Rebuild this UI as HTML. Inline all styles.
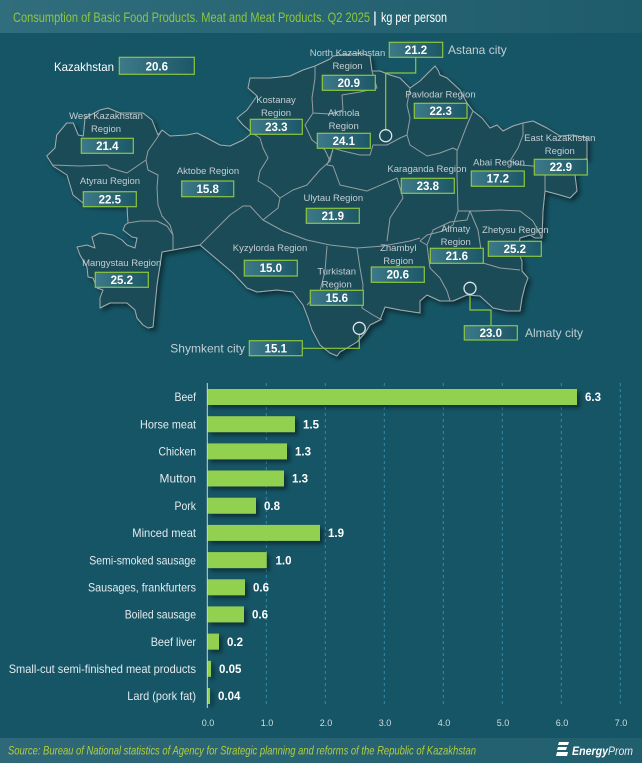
<!DOCTYPE html>
<html><head><meta charset="utf-8"><style>
html,body{margin:0;padding:0;background:#165565;}
svg{display:block;font-family:"Liberation Sans",sans-serif;}
</style></head><body>
<svg width="642" height="763" viewBox="0 0 642 763" xmlns="http://www.w3.org/2000/svg">
<defs>
<linearGradient id="hdr" x1="0" x2="1" y1="0" y2="0"><stop offset="0" stop-color="#306d7d"/><stop offset="1" stop-color="#1e5b6b"/></linearGradient>
<linearGradient id="ftr" x1="0" x2="1" y1="0" y2="0"><stop offset="0" stop-color="#2f6878"/><stop offset="1" stop-color="#215f6e"/></linearGradient>
<linearGradient id="box" x1="0" x2="1" y1="0" y2="0"><stop offset="0" stop-color="#3d7a89"/><stop offset="1" stop-color="#1c5767"/></linearGradient>
<filter id="sh" x="-10%" y="-10%" width="130%" height="130%"><feDropShadow dx="3" dy="3" stdDeviation="2.5" flood-color="#000" flood-opacity="0.45"/></filter>
<filter id="bsh" x="-5%" y="-20%" width="120%" height="170%"><feDropShadow dx="3" dy="3" stdDeviation="2" flood-color="#000" flood-opacity="0.45"/></filter>
</defs>
<rect width="642" height="763" fill="#165565"/>
<rect width="642" height="33" fill="url(#hdr)"/>
<text x="13" y="22" font-size="14" fill="#8dc63f" textLength="357" lengthAdjust="spacingAndGlyphs">Consumption of Basic Food Products. Meat and Meat Products. Q2 2025</text>
<text x="373" y="22.5" font-size="15" fill="#ffffff">|</text>
<text x="381" y="22" font-size="14" fill="#ffffff" textLength="66" lengthAdjust="spacingAndGlyphs">kg per person</text>

<!-- MAP -->
<path filter="url(#sh)" fill="#1e4c59" stroke="#a3adb0" stroke-width="1" stroke-linejoin="round" d="M46.7,156 L55,148 L56.7,135 L66.7,123 L73.3,123 L78.3,135 L83.3,136 L85,118 L100,110 L108,108 L120,113 L143,113 L152,120 L158,135 L162,130 L170,136 L187,135 L197,133 L207,138 L220,145 L230,146 L243,140 L252,133 L243,125 L237,118 L247,110 L257,96 L248,88 L250,78 L270,78 L290,76 L303,70 L315,66 L330,59 L333,56 L360,53 L370,56 L372,71 L380,71 L390,75 L400,78 L410,88 L420,81 L430,71 L435,66 L438,70 L440,75 L447,78 L460,90 L467,103 L473,111 L482,118 L490,128 L497,125 L503,131 L513,126 L523,123 L533,121 L547,128 L560,136 L573,135 L587,138 L587,158 L582,161 L575,175 L577,191 L570,198 L560,195 L545,191 L543,211 L542,238 L535,238 L530,235 L520,238 L518,251 L522,261 L522,271 L528,278 L525,286 L522,298 L520,311 L507,311 L493,308 L480,296 L467,295 L453,301 L440,301 L427,295 L420,301 L420,313 L400,310 L385,307 L380,320 L370,325 L365,333 L357,342 L347,348 L340,352 L337,356 L330,353 L320,345 L312,330 L308,318 L303,305 L293,292 L277,290 L257,292 L247,288 L233,273 L220,262 L200,245 L173,250 L162,252 L157,285 L153,327 L148,328 L143,325 L137,318 L135,310 L127,303 L110,303 L100,308 L100,298 L103,290 L97,288 L93,278 L88,277 L87,267 L80,255 L77,247 L87,245 L95,248 L92,237 L100,233 L113,235 L122,240 L127,245 L135,248 L137,238 L132,237 L123,230 L125,225 L128,223 L127,206 L97,205 L83,203 L73,195 L70,185 L67,175 L53,166 L50,161 Z"/>
<g fill="none" stroke="#939ea1" stroke-width="1" stroke-linejoin="round">
<path d="M52,165 L80,166 L107,165 L110,168 L127,173 L146,160"/>
<path d="M162,130 L157,138 L148,151 L146,160 L148,170 L158,175 L157,188 L158,205 L162,216 L170,225 L173,235 L173,250"/>
<path d="M128,223 L140,221 L157,221 L167,226 L173,235"/>
<path d="M200,245 L217,228 L230,215 L243,206 L250,206 L263,220"/>
<path d="M252,133 L260,138 L263,148 L268,158 L260,171 L258,181 L270,188 L280,198 L278,208 L263,220"/>
<path d="M263,220 L283,231 L307,240 L330,245 L357,248 L383,246 L410,241 L420,238"/>
<path d="M280,198 L293,190 L307,185 L320,170 L330,161"/>
<path d="M315,66 L315,78 L312,98 L313,113 L305,125 L312,140 L325,150 L330,161 L333,148"/>
<path d="M372,71 L377,88 L360,92 L342,95 L343,110 L330,114 L313,113"/>
<path d="M410,88 L407,105 L410,118 L407,135 L400,138 L387,145 L373,145 L370,155 L360,155 L343,151 L333,148"/>
<path d="M333,150 L327,165 L333,166 L340,185 L367,191 L397,178 L403,198 L390,218 L387,241"/>
<path d="M407,135 L410,145 L427,156 L440,153 L453,148 L457,150"/>
<path d="M473,111 L467,125 L457,151 L457,175 L458,211 L453,225 L443,231 L427,235 L420,241"/>
<path d="M458,211 L477,211 L500,210 L520,211 L533,221 L542,238"/>
<path d="M523,123 L523,135 L518,148 L510,161 L520,165 L533,166 L545,175 L545,191"/>
<path d="M420,241 L427,245 L430,268 L440,278 L447,291 L450,301"/>
<path d="M427,245 L433,230 L450,222 L467,220 L470,211"/>
<path d="M470,211 L478,230 L483,263 L500,268 L520,270"/>
<path d="M357,248 L360,268 L363,285 L362,308 L373,315 L382,320"/>
<path d="M327,246 L325,271 L320,291 L307,305"/>
</g>

<!-- city markers & leader lines -->
<g fill="none" stroke="#8dc63f" stroke-width="1.2">
<polyline points="385.7,130 385.7,73 415.7,73 415.7,57.3"/>
<polyline points="470,294 470,310 491,310 491,325.7"/>
<polyline points="359.3,334 359.3,348.3 302.3,348.3"/>
</g>
<g fill="none" stroke="#dfe7ea" stroke-width="1.3">
<circle cx="385.7" cy="135.7" r="6"/>
<circle cx="470" cy="288.3" r="6"/>
<circle cx="359.3" cy="328.3" r="6"/>
</g>

<!-- region labels -->
<g font-size="9.5" fill="#c3ced2" text-anchor="middle">
<text x="106" y="119">West Kazakhstan</text><text x="106" y="132">Region</text>
<text x="110" y="184">Atyrau Region</text>
<text x="208" y="174">Aktobe Region</text>
<text x="276" y="103">Kostanay</text><text x="276" y="116">Region</text>
<text x="347.5" y="56">North Kazakhstan</text><text x="347.5" y="69">Region</text>
<text x="440.5" y="97.5">Pavlodar Region</text>
<text x="343.7" y="116">Akmola</text><text x="343.7" y="129">Region</text>
<text x="559.8" y="141">East Kazakhstan</text><text x="559.8" y="154">Region</text>
<text x="499" y="165.5">Abai Region</text>
<text x="427" y="172">Karaganda Region</text>
<text x="333.3" y="201">Ulytau Region</text>
<text x="270" y="251">Kyzylorda Region</text>
<text x="121.7" y="266">Mangystau Region</text>
<text x="336.7" y="274.5">Turkistan</text><text x="336.7" y="287.5">Region</text>
<text x="398.3" y="251">Zhambyl</text><text x="398.3" y="264">Region</text>
<text x="455.7" y="232">Almaty</text><text x="455.7" y="245">Region</text>
<text x="515.3" y="233">Zhetysu Region</text>
</g>
<g font-size="12" fill="#c3ced2">
<text x="448" y="54">Astana city</text>
<text x="525" y="337">Almaty city</text>
<text x="245" y="352.5" text-anchor="end">Shymkent city</text>
</g>
<text x="54" y="71" font-size="12" fill="#ffffff" textLength="60" lengthAdjust="spacingAndGlyphs">Kazakhstan</text>

<!-- value boxes -->
<g fill="url(#box)" stroke="#8dc63f" stroke-width="1.2">
<rect x="119.3" y="57.3" width="75" height="17"/>
<rect x="81.3" y="138.3" width="52" height="15"/>
<rect x="83.3" y="191.7" width="53" height="15"/>
<rect x="181.7" y="181" width="52" height="15.7"/>
<rect x="250.3" y="119.3" width="52" height="15"/>
<rect x="322.3" y="75.3" width="53" height="15"/>
<rect x="389.3" y="42.3" width="53.4" height="15"/>
<rect x="414.3" y="103.3" width="52.7" height="15"/>
<rect x="317.3" y="133.3" width="53" height="15"/>
<rect x="534.3" y="159.3" width="53" height="15.7"/>
<rect x="471.3" y="171" width="53" height="15.3"/>
<rect x="401.3" y="178.3" width="53" height="15"/>
<rect x="306.3" y="208.3" width="53" height="15"/>
<rect x="244.3" y="260.3" width="53" height="15.7"/>
<rect x="95.3" y="272.3" width="53" height="15"/>
<rect x="310.3" y="290.3" width="53" height="15"/>
<rect x="371.3" y="267" width="53" height="15.3"/>
<rect x="430.3" y="248.3" width="53" height="15"/>
<rect x="488.3" y="241.3" width="53" height="15"/>
<rect x="464.3" y="325.7" width="53" height="14.3"/>
<rect x="249.3" y="340.7" width="53" height="15"/>
</g>
<g font-size="11.5" font-weight="bold" fill="#ffffff" text-anchor="middle">
<text x="156.8" y="70.3">20.6</text>
<text x="107.3" y="150">21.4</text>
<text x="109.8" y="203.4">22.5</text>
<text x="207.7" y="193">15.8</text>
<text x="276.3" y="131">23.3</text>
<text x="348.8" y="87">20.9</text>
<text x="416" y="54">21.2</text>
<text x="440.7" y="115">22.3</text>
<text x="343.8" y="145">24.1</text>
<text x="560.8" y="171.2">22.9</text>
<text x="497.8" y="182.7">17.2</text>
<text x="427.8" y="190">23.8</text>
<text x="332.8" y="220">21.9</text>
<text x="270.8" y="272.2">15.0</text>
<text x="121.8" y="284">25.2</text>
<text x="336.8" y="302">15.6</text>
<text x="397.8" y="278.7">20.6</text>
<text x="456.8" y="260">21.6</text>
<text x="514.8" y="253">25.2</text>
<text x="490.8" y="337">23.0</text>
<text x="275.8" y="352.4">15.1</text>
</g>

<!-- BAR CHART -->
<g stroke="#2a8db0" stroke-width="1" stroke-dasharray="3,3">
<line x1="266.3" y1="383" x2="266.3" y2="707"/>
<line x1="325.3" y1="383" x2="325.3" y2="707"/>
<line x1="384.3" y1="383" x2="384.3" y2="707"/>
<line x1="443.3" y1="383" x2="443.3" y2="707"/>
<line x1="502.3" y1="383" x2="502.3" y2="707"/>
<line x1="561.3" y1="383" x2="561.3" y2="707"/>
<line x1="620.3" y1="383" x2="620.3" y2="707"/>
</g>
<g fill="#92d050" filter="url(#bsh)">
<rect x="207.3" y="389" width="369.7" height="16"/>
<rect x="207.3" y="416.2" width="87.7" height="16"/>
<rect x="207.3" y="443.4" width="79.7" height="16"/>
<rect x="207.3" y="470.5" width="76.7" height="16"/>
<rect x="207.3" y="497.7" width="48.7" height="16"/>
<rect x="207.3" y="524.9" width="112.7" height="16"/>
<rect x="207.3" y="552.1" width="59.4" height="16"/>
<rect x="207.3" y="579.3" width="37.7" height="16"/>
<rect x="207.3" y="606.4" width="36.7" height="16"/>
<rect x="207.3" y="633.6" width="11.7" height="16"/>
<rect x="207.3" y="660.8" width="3.7" height="16"/>
<rect x="207.3" y="688" width="2.7" height="16"/>
</g>
<line x1="207.3" y1="383" x2="207.3" y2="708" stroke="#c9d6da" stroke-width="1"/>
<g font-size="12" fill="#e3ebee" text-anchor="end">
<text x="196" y="401.2" textLength="21.5" lengthAdjust="spacingAndGlyphs">Beef</text>
<text x="196" y="428.4" textLength="56" lengthAdjust="spacingAndGlyphs">Horse meat</text>
<text x="196" y="455.6" textLength="37.5" lengthAdjust="spacingAndGlyphs">Chicken</text>
<text x="196" y="482.7" textLength="36.5" lengthAdjust="spacingAndGlyphs">Mutton</text>
<text x="196" y="509.9" textLength="21.5" lengthAdjust="spacingAndGlyphs">Pork</text>
<text x="196" y="537.1" textLength="63.7" lengthAdjust="spacingAndGlyphs">Minced meat</text>
<text x="196" y="564.3" textLength="106.7" lengthAdjust="spacingAndGlyphs">Semi-smoked sausage</text>
<text x="196" y="591.5" textLength="108" lengthAdjust="spacingAndGlyphs">Sausages, frankfurters</text>
<text x="196" y="618.6" textLength="71.3" lengthAdjust="spacingAndGlyphs">Boiled sausage</text>
<text x="196" y="645.8" textLength="45.3" lengthAdjust="spacingAndGlyphs">Beef liver</text>
<text x="196" y="673" textLength="187.3" lengthAdjust="spacingAndGlyphs">Small-cut semi-finished meat products</text>
<text x="196" y="700.2" textLength="68.7" lengthAdjust="spacingAndGlyphs">Lard (pork fat)</text>
</g>
<g font-size="11.5" font-weight="bold" fill="#ffffff">
<text x="585" y="401.2">6.3</text>
<text x="303" y="428.4">1.5</text>
<text x="295" y="455.6">1.3</text>
<text x="292" y="482.7">1.3</text>
<text x="264" y="509.9">0.8</text>
<text x="328" y="537.1">1.9</text>
<text x="275.5" y="564.3">1.0</text>
<text x="253" y="591.5">0.6</text>
<text x="252" y="618.6">0.6</text>
<text x="227" y="645.8">0.2</text>
<text x="219" y="673">0.05</text>
<text x="218" y="700.2">0.04</text>
</g>
<g font-size="9" fill="#d3dee2" text-anchor="middle">
<text x="208" y="726">0.0</text>
<text x="267" y="726">1.0</text>
<text x="326" y="726">2.0</text>
<text x="385" y="726">3.0</text>
<text x="444" y="726">4.0</text>
<text x="503" y="726">5.0</text>
<text x="562" y="726">6.0</text>
<text x="621" y="726">7.0</text>
</g>

<!-- FOOTER -->
<rect x="0" y="738" width="642" height="25" fill="url(#ftr)"/>
<text x="8" y="754.5" font-size="12" font-style="italic" fill="#b3cd3c" textLength="468" lengthAdjust="spacingAndGlyphs">Source: Bureau of National statistics of Agency for Strategic planning and reforms of the Republic of Kazakhstan</text>
<g fill="#ffffff">
<polygon points="559,742 569,742 568,745 558,745"/>
<polygon points="558,747 567,747 566,750 557,750"/>
<polygon points="557,752 568,752 567,756 556,756"/>
</g>
<text x="572" y="755" font-size="12" font-style="italic" font-weight="bold" fill="#ffffff" textLength="36" lengthAdjust="spacingAndGlyphs">Energy</text>
<text x="608" y="755" font-size="12" font-style="italic" fill="#e8eef0" textLength="25" lengthAdjust="spacingAndGlyphs">Prom</text>
</svg>
</body></html>
